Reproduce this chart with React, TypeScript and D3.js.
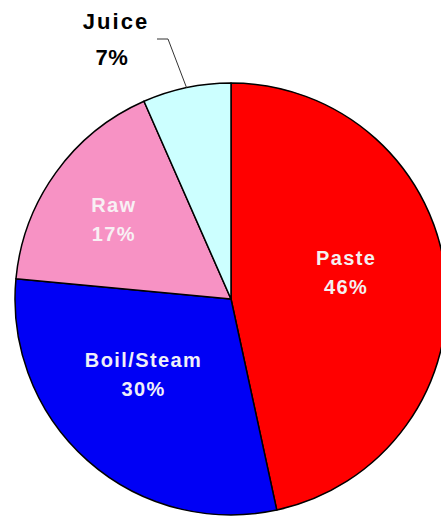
import React from "react";
import * as d3 from "d3";

const categories = ["Paste", "Boil/Steam", "Raw", "Juice"];
const values = [46.6, 29.9, 16.9, 6.6];
const percentLabels = ["46%", "30%", "17%", "7%"];
const colors = ["#FF0000", "#0000F5", "#F792C4", "#CCFFFF"];
const textColors = ["#F4F0F0", "#F0F0F8", "#F8F0F4", "#000000"];

// label placement (polar, degrees clockwise from 12 o'clock, radius in px)
const labelAngles = [80.5, 226.8, 301.4, 0];
const labelRadii = [116, 121, 138, 0];

const W = 441;
const H = 517;
const cx = 231;
const cy = 299;
const R = 216;

export default function App() {
  const pie = d3.pie<number>().sort(null).value((d) => d)(values);
  const arc = d3.arc<d3.PieArcDatum<number>>().innerRadius(0).outerRadius(R);
  const juice = pie[3];
  const jMid = (juice.startAngle + juice.endAngle) / 2;
  const edge = d3.pointRadial(jMid, R);
  const fs = 20;
  return (
    <svg
      width={W}
      height={H}
      style={{ position: "absolute", left: 0, top: 0, background: "#fff" }}
      fontFamily="'Liberation Sans', Arial, sans-serif"
      fontWeight="bold"
    >
      <g transform={`translate(${cx},${cy})`}>
        {pie.map((p, i) => (
          <path key={i} d={arc(p) || ""} fill={colors[i]} stroke="#000" strokeWidth={1.5} strokeLinejoin="round" />
        ))}
        {pie.slice(0, 3).map((p, i) => {
          const [x, y] = d3.pointRadial((labelAngles[i] * Math.PI) / 180, labelRadii[i]);
          return (
            <text key={i} x={x} y={y} textAnchor="middle" fill={textColors[i]} fontSize={fs} letterSpacing={1.4}>
              <tspan x={x + 0.7} dy={-15}>{categories[i]}</tspan>
              <tspan x={x + 0.7} dy={29}>{percentLabels[i]}</tspan>
            </text>
          );
        })}
        <polyline
          points={`${edge[0]},${edge[1]} ${168 - cx},${39 - cy} ${157 - cx},${39 - cy}`}
          fill="none"
          stroke="#333"
          strokeWidth={1}
        />
      </g>
      <text x={116} y={29} textAnchor="middle" fontSize={22} letterSpacing={2} fill="#000">
        {categories[3]}
      </text>
      <text x={112} y={65} textAnchor="middle" fontSize={22} letterSpacing={0.5} fill="#000">
        {percentLabels[3]}
      </text>
    </svg>
  );
}
